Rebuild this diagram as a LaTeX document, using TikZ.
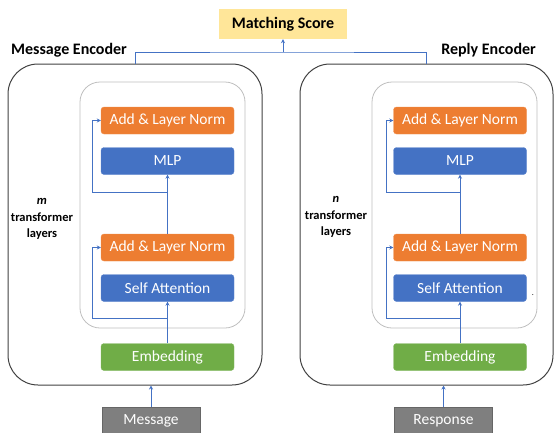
\documentclass[tikz,border=0pt]{standalone}
\usepackage{fontspec}
\setmainfont{Carlito}
\usetikzlibrary{arrows.meta}
\definecolor{cOrange}{HTML}{ED7D31}
\definecolor{cBlue}{HTML}{4472C4}
\definecolor{cGreen}{HTML}{70AD47}
\definecolor{cGray}{HTML}{7F7F7F}
\definecolor{cYellow}{HTML}{FFE699}
\definecolor{cOuter}{HTML}{404040}
\definecolor{cInner}{HTML}{BFBFBF}
\tikzset{
  blk/.style={rounded corners=3pt, minimum width=133pt, minimum height=27pt, inner sep=0pt, text=white, font=\fontsize{15.5}{17}\selectfont},
  orangeblk/.style={blk, fill=cOrange, draw=cOrange!85!white},
  blueblk/.style={blk, fill=cBlue, draw=cBlue!85!white},
  greenblk/.style={blk, fill=cGreen, draw=cGreen!85!white},
  inbox/.style={fill=cGray, draw=cGray!80!black, minimum width=98pt, minimum height=28pt, inner sep=0pt, text=white, font=\fontsize{15.5}{17}\selectfont},
  outerbox/.style={draw=cOuter, line width=1pt, rounded corners=30pt, inner sep=0pt},
  innerbox/.style={draw=cInner, line width=0.8pt, rounded corners=20pt, inner sep=0pt, minimum width=165pt, minimum height=246pt},
  conn/.style={draw=cBlue, line width=1pt},
  arr/.style={conn, -{Stealth[length=4pt,width=4pt]}},
  title/.style={font=\bfseries\fontsize{16}{18}\selectfont, inner sep=0pt},
  layerlbl/.style={font=\bfseries\fontsize{12.5}{16.5}\selectfont, align=center, inner sep=0pt}
}
\begin{document}
\begin{tikzpicture}[x=1pt,y=-1pt]
\useasboundingbox (0,0) rectangle (555,432);
% Matching score
\node[fill=cYellow, minimum width=128pt, minimum height=30pt, inner sep=0pt, font=\bfseries\fontsize{16}{18}\selectfont] (ms) at (283,24) {Matching Score};
% outer boxes
\node[outerbox, minimum width=254pt, minimum height=321pt] (outerL) at (135,224.5) {};
\node[outerbox, minimum width=253pt, minimum height=321pt] (outerR) at (426.5,224.5) {};
\node[title, anchor=west] (titleL) at (11,50) {Message Encoder};
\node[title, anchor=east] (titleR) at (536,50) {Reply Encoder};
% inner boxes
\node[innerbox] (innerL) at (162.5,205) {};
\node[innerbox] (innerR) at (454.5,205) {};
% layer labels
\node[layerlbl] (lblL) at (42,219) {\itshape m\\transformer\\layers};
\node[layerlbl] (lblR) at (336,217) {\itshape n\\transformer\\layers};
% left blocks
\node[orangeblk] (anL1) at (167.5,120.5) {Add \& Layer Norm};
\node[blueblk] (mlpL) at (167.5,161) {MLP};
\node[orangeblk] (anL2) at (167.5,247.5) {Add \& Layer Norm};
\node[blueblk] (saL) at (167.5,288) {Self Attention};
\node[greenblk] (embL) at (167.5,357) {Embedding};
% right blocks
\node[orangeblk] (anR1) at (460,120.5) {Add \& Layer Norm};
\node[blueblk] (mlpR) at (460,161) {MLP};
\node[orangeblk] (anR2) at (460,247.5) {Add \& Layer Norm};
\node[blueblk] (saR) at (460,288) {Self Attention};
\node[greenblk] (embR) at (460,357) {Embedding};
\node[inner sep=0pt, font=\fontsize{8}{8}\selectfont] (dot) at (533,295) {.};
% inputs
\node[inbox] (msg) at (151,421) {Message};
\node[inbox] (resp) at (443.5,421) {Response};
% top connection
\coordinate (j) at (283,52);
\draw[conn] (outerL.north) |- (j) -| (outerR.north);
\draw[arr] (j) -- (ms.south);
% input arrows
\draw[arr] (msg.north) -- (msg.north |- outerL.south);
\draw[arr] (resp.north) -- (resp.north |- outerR.south);
% left internal connectors
\coordinate (bL1) at (167.5,318);
\coordinate (rL1) at (92,318);
\coordinate (bL2) at (167.5,192);
\coordinate (rL2) at (92,192);
\draw[arr] (embL.north) -- (saL.south);
\draw[arr] (bL1) -- (rL1) |- (anL2.west);
\draw[arr] (anL2.north) -- (mlpL.south);
\draw[arr] (bL2) -- (rL2) |- (anL1.west);
% right internal connectors
\coordinate (bR1) at (460,318);
\coordinate (rR1) at (386,318);
\coordinate (bR2) at (460,192);
\coordinate (rR2) at (386,192);
\draw[arr] (embR.north) -- (saR.south);
\draw[arr] (bR1) -- (rR1) |- (anR2.west);
\draw[arr] (anR2.north) -- (mlpR.south);
\draw[arr] (bR2) -- (rR2) |- (anR1.west);
\end{tikzpicture}
\end{document}
